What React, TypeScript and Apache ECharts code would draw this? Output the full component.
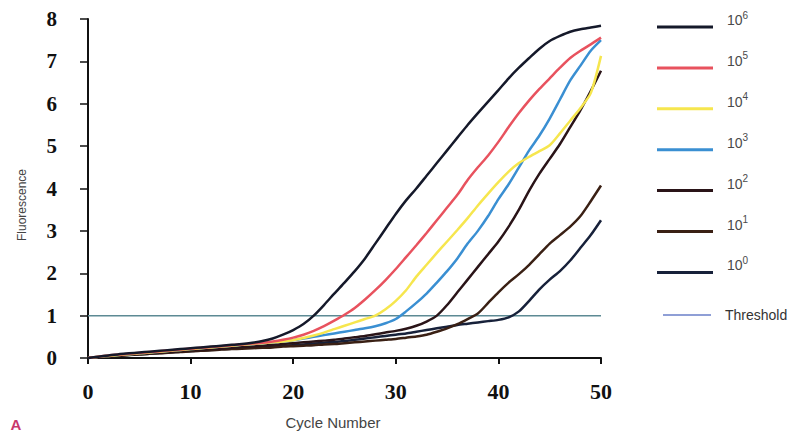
import React, { useEffect, useRef } from "react";
import * as echarts from "echarts";

const cycles = Array.from({ length: 51 }, (_, i) => i);

const seriesNames = ["10⁶", "10⁵", "10⁴", "10³", "10²", "10¹", "10⁰"];
const seriesColors = ["#15192a", "#e8525e", "#f6e64e", "#3a8fd2", "#2a1418", "#3a2014", "#17213a"];

const s1e6 = [0, 0.03, 0.06, 0.09, 0.11, 0.13, 0.15, 0.17, 0.19, 0.21, 0.23, 0.25, 0.27, 0.29, 0.31, 0.33, 0.36, 0.4, 0.46, 0.55, 0.66, 0.8, 1.0, 1.25, 1.52, 1.78, 2.05, 2.35, 2.7, 3.05, 3.4, 3.72, 4.0, 4.3, 4.6, 4.9, 5.2, 5.5, 5.78, 6.05, 6.32, 6.6, 6.85, 7.08, 7.3, 7.48, 7.6, 7.7, 7.76, 7.8, 7.84];
const s1e5 = [0, 0.03, 0.06, 0.08, 0.1, 0.12, 0.14, 0.16, 0.18, 0.2, 0.22, 0.24, 0.26, 0.28, 0.3, 0.32, 0.34, 0.36, 0.39, 0.43, 0.48, 0.55, 0.64, 0.75, 0.88, 1.02, 1.18, 1.38, 1.6, 1.84, 2.1, 2.38, 2.66, 2.95, 3.25, 3.55, 3.85, 4.2, 4.5, 4.78, 5.1, 5.45, 5.78, 6.08, 6.35, 6.6, 6.85, 7.08, 7.25, 7.4, 7.56];
const s1e4 = [0, 0.03, 0.05, 0.07, 0.09, 0.11, 0.13, 0.15, 0.17, 0.19, 0.21, 0.23, 0.25, 0.27, 0.29, 0.31, 0.33, 0.35, 0.37, 0.39, 0.42, 0.47, 0.53, 0.6, 0.68, 0.76, 0.84, 0.92, 1.0, 1.15, 1.35, 1.6, 1.92, 2.2, 2.48, 2.75, 3.02, 3.3, 3.6, 3.88, 4.15, 4.4, 4.6, 4.75, 4.88, 5.02, 5.3, 5.6, 5.9, 6.25, 7.13];
const s1e3 = [0, 0.03, 0.05, 0.07, 0.09, 0.11, 0.13, 0.15, 0.17, 0.19, 0.21, 0.23, 0.25, 0.27, 0.29, 0.31, 0.33, 0.35, 0.37, 0.39, 0.42, 0.46, 0.5, 0.54, 0.58, 0.62, 0.66, 0.7, 0.75, 0.82, 0.92, 1.1, 1.3, 1.52, 1.78, 2.05, 2.35, 2.7, 3.0, 3.35, 3.75, 4.1, 4.5, 4.9, 5.25, 5.65, 6.1, 6.55, 6.9, 7.25, 7.5];
const s1e2 = [0, 0.02, 0.04, 0.06, 0.08, 0.1, 0.11, 0.13, 0.14, 0.16, 0.18, 0.19, 0.21, 0.22, 0.24, 0.26, 0.27, 0.29, 0.31, 0.33, 0.35, 0.37, 0.39, 0.41, 0.43, 0.46, 0.49, 0.52, 0.56, 0.6, 0.64, 0.69, 0.76, 0.86, 1.0, 1.25, 1.55, 1.85, 2.15, 2.45, 2.75, 3.1, 3.5, 3.95, 4.35, 4.7, 5.05, 5.45, 5.85, 6.3, 6.78];
const s1e1 = [0, 0.02, 0.04, 0.05, 0.07, 0.08, 0.1, 0.11, 0.13, 0.14, 0.16, 0.17, 0.18, 0.2, 0.21, 0.22, 0.23, 0.24, 0.25, 0.27, 0.28, 0.29, 0.3, 0.32, 0.33, 0.35, 0.37, 0.39, 0.41, 0.43, 0.45, 0.48, 0.51, 0.55, 0.62, 0.7, 0.8, 0.92, 1.05, 1.3, 1.55, 1.78, 1.98, 2.2, 2.45, 2.7, 2.9, 3.1, 3.35, 3.7, 4.07];
const s1e0 = [0, 0.02, 0.04, 0.06, 0.07, 0.09, 0.1, 0.12, 0.13, 0.15, 0.16, 0.18, 0.19, 0.21, 0.22, 0.24, 0.25, 0.26, 0.27, 0.29, 0.3, 0.32, 0.34, 0.36, 0.38, 0.4, 0.43, 0.46, 0.49, 0.52, 0.55, 0.58, 0.62, 0.66, 0.7, 0.74, 0.78, 0.81, 0.84, 0.87, 0.9, 0.96, 1.1, 1.35, 1.62, 1.85, 2.05, 2.3, 2.6, 2.9, 3.25];
const seriesValues = [s1e6, s1e5, s1e4, s1e3, s1e2, s1e1, s1e0];

const thresholdName = "Threshold";
const thresholdValue = 1;
const thresholdRange = [0, 50];

const xTicks = { min: 0, max: 50, interval: 10 };
const yTicks = { min: 0, max: 8, interval: 1 };

const serif = "'Liberation Serif', 'DejaVu Serif', serif";
const sans = "'Liberation Sans', Arial, sans-serif";

export default function App() {
  const ref = useRef<HTMLDivElement>(null);
  useEffect(() => {
    if (!ref.current) return;
    const chart = echarts.init(ref.current, undefined, { renderer: "svg" });
    const series: any[] = seriesNames.map((name, i) => ({
      name,
      type: "line",
      symbol: "none",
      smooth: 0.25,
      data: cycles.map((c) => [c, seriesValues[i][c]]),
      lineStyle: { color: seriesColors[i], width: 2.5 },
      itemStyle: { color: seriesColors[i] },
      z: 3 + (seriesNames.length - i),
    }));
    series.push({
      name: thresholdName,
      type: "line",
      symbol: "none",
      data: thresholdRange.map((c) => [c, thresholdValue]),
      lineStyle: { color: "#5d8a94", width: 1.5 },
      itemStyle: { color: "#5d8a94" },
      z: 2,
    });
    const supMap: Record<string, string> = { "⁶": "6", "⁵": "5", "⁴": "4", "³": "3", "²": "2", "¹": "1", "⁰": "0" };
    chart.setOption({
      animation: false,
      grid: { left: 88, right: 199, top: 19, bottom: 78, containLabel: false },
      xAxis: {
        type: "value",
        min: xTicks.min,
        max: xTicks.max,
        interval: xTicks.interval,
        splitLine: { show: false },
        axisLine: { lineStyle: { color: "#111", width: 2 } },
        axisTick: { show: true, length: 6, lineStyle: { color: "#111", width: 2 } },
        axisLabel: { margin: 22, fontFamily: serif, fontWeight: "bold", fontSize: 22, color: "#111" },
      },
      yAxis: {
        type: "value",
        min: yTicks.min,
        max: yTicks.max,
        interval: yTicks.interval,
        splitLine: { show: false },
        axisLine: { show: true, lineStyle: { color: "#111", width: 2 } },
        axisTick: { show: true, length: 8, lineStyle: { color: "#111", width: 1.5 } },
        axisLabel: { margin: 31, fontFamily: serif, fontWeight: "bold", fontSize: 21, color: "#111" },
      },
      legend: [
        {
          data: seriesNames,
          orient: "vertical",
          left: 652,
          top: 5,
          icon: "rect",
          itemWidth: 56,
          itemHeight: 3,
          itemGap: 22.4,
          formatter: (name: string) => `{b|10}{s|${supMap[name.slice(2)] ?? ""}}`,
          textStyle: {
            padding: [0, 0, 0, 9],
            rich: {
              b: { fontFamily: sans, fontSize: 14, color: "#4a4a4a", lineHeight: 34, verticalAlign: "top", padding: [3, 0, 0, 0] },
              s: { fontFamily: sans, fontSize: 10, color: "#4a4a4a", lineHeight: 34, verticalAlign: "top" },
            },
          },
        },
        {
          data: [{ name: thresholdName, itemStyle: { color: "#8f9fd6" } }],
          orient: "vertical",
          left: 658,
          top: 300,
          icon: "rect",
          itemWidth: 48,
          itemHeight: 2,
          textStyle: { fontFamily: sans, fontSize: 14, color: "#333", lineHeight: 20, padding: [0, 0, 0, 9] },
        },
      ],
      graphic: [
        {
          type: "text",
          x: 22,
          y: 205,
          rotation: Math.PI / 2,
          style: { text: "Fluorescence", fontFamily: sans, fontSize: 12, fill: "#444", align: "center", verticalAlign: "middle" },
        },
        {
          type: "text",
          x: 333,
          y: 422,
          style: { text: "Cycle Number", fontFamily: sans, fontSize: 15, fill: "#444", align: "center", verticalAlign: "middle" },
        },
        {
          type: "text",
          x: 16,
          y: 424,
          style: { text: "A", fontFamily: sans, fontWeight: "bold", fontSize: 15, fill: "#c8386a", align: "center", verticalAlign: "middle" },
        },
      ],
      series,
    });
    return () => chart.dispose();
  }, []);
  return <div ref={ref} style={{ width: 800, height: 436, position: "absolute", left: 0, top: 0 }} />;
}
